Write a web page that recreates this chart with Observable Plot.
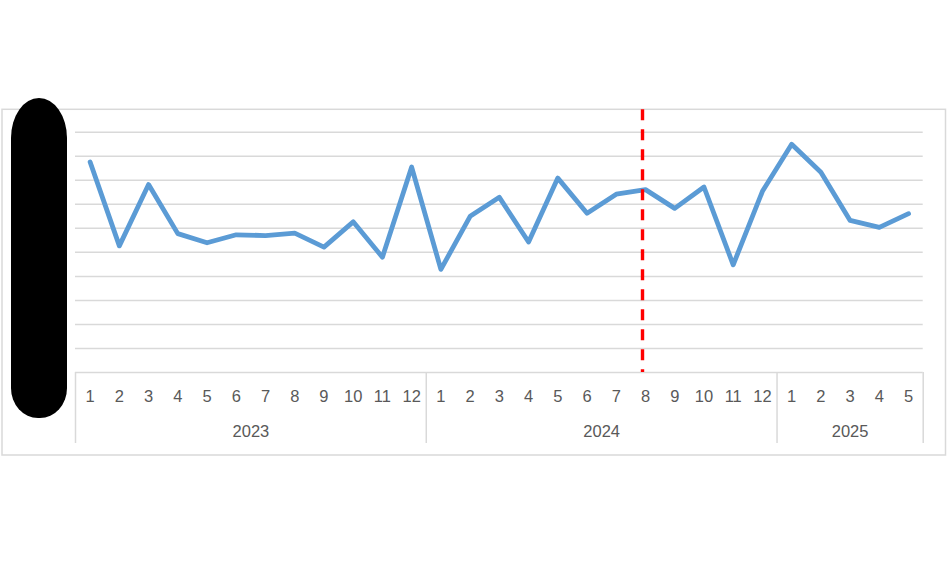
<!DOCTYPE html>
<html><head><meta charset="utf-8">
<script src="https://cdn.jsdelivr.net/npm/d3@7"></script>
<script src="https://cdn.jsdelivr.net/npm/@observablehq/plot@0.6"></script>
<style>
body{margin:0;background:#fff;}
#wrap{position:relative;width:947px;height:564px;}
#wrap svg{position:absolute;left:0;top:0;}
#blob{position:absolute;left:11px;top:98px;width:56px;height:320px;background:#000;border-radius:28px 28px 27px 27px / 40px 40px 30px 30px;}
</style></head><body><div id="wrap"></div><script>
// ---- data ----
const years = ["2023", "2024", "2025"];
const months2023 = [1, 2, 3, 4, 5, 6, 7, 8, 9, 10, 11, 12];
const months2024 = [1, 2, 3, 4, 5, 6, 7, 8, 9, 10, 11, 12];
const months2025 = [1, 2, 3, 4, 5];
const values2023 = [87.6, 52.7, 78.2, 57.8, 54.0, 57.3, 57.0, 58.0, 52.2, 62.7, 48.0, 85.5];
const values2024 = [42.9, 65.0, 72.9, 54.3, 80.9, 66.3, 74.2, 76.1, 68.3, 77.2, 44.8, 75.4];
const values2025 = [95.0, 83.3, 63.3, 60.4, 66.1];
const yTicks = [0, 10, 20, 30, 40, 50, 60, 70, 80, 90, 100];
const markerYear = "2024";
const markerMonth = 8;

// ---- build table ----
const monthsByYear = [months2023, months2024, months2025];
const valuesByYear = [values2023, values2024, values2025];
const data = [];
years.forEach((yr, k) => {
  monthsByYear[k].forEach((m, j) => {
    data.push({i: data.length, year: yr, month: String(m), value: valuesByYear[k][j]});
  });
});
const yearRows = years.map(yr => {
  const idx = data.filter(d => d.year === yr).map(d => d.i);
  return {year: yr, mid: d3.mean(idx), start: d3.min(idx) - 0.5, end: d3.max(idx) + 0.5};
});
const boundaries = Array.from(new Set(yearRows.flatMap(r => [r.start, r.end])));
const markerIndex = data.find(d => d.year === markerYear && d.month === String(markerMonth)).i;

const W = 947, H = 564;
const chart = Plot.plot({
  width: W, height: H,
  marginLeft: 75, marginRight: 24.3, marginTop: 131.7, marginBottom: 192,
  style: {fontFamily: "'Liberation Sans', Arial, sans-serif", fontSize: "16.5px", color: "#595959", background: "#fff", overflow: "visible"},
  x: {domain: [-0.5, data.length - 0.5], axis: null},
  y: {domain: [0, 100], axis: null},
  marks: [
    Plot.frame({stroke: "#d9d9d9", strokeWidth: 1.5, insetLeft: -73.5, insetRight: -22.3, insetTop: -22.9, insetBottom: -82.5}),
    Plot.gridY(yTicks, {stroke: "#d9d9d9", strokeOpacity: 1, strokeWidth: 1.5}),
    Plot.ruleX(boundaries, {stroke: "#d9d9d9", strokeWidth: 1.5, insetTop: 240.3, insetBottom: -71}),
    Plot.line(data, {x: "i", y: "value", stroke: "#5b9bd5", strokeWidth: 4.8, strokeLinejoin: "round", strokeLinecap: "round"}),
    Plot.ruleX([markerIndex], {stroke: "#ff0000", strokeWidth: 3.4, strokeDasharray: "11,9", insetTop: -22.5, dx: -3}),
    Plot.text(data, {x: "i", text: "month", frameAnchor: "bottom", dy: 29, fill: "#595959"}),
    Plot.text(yearRows, {x: "mid", text: "year", frameAnchor: "bottom", dy: 64, fill: "#595959"})
  ]
});
const wrap = document.getElementById("wrap");
wrap.appendChild(chart);
const blob = document.createElement("div");
blob.id = "blob";
wrap.appendChild(blob);
</script></body></html>
